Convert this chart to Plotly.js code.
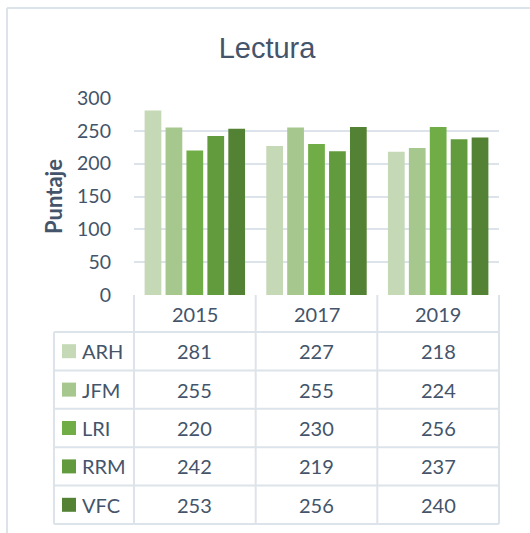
<!DOCTYPE html>
<html>
<head>
<meta charset="utf-8">
<script src="https://cdn.plot.ly/plotly-3.0.1.min.js"></script>
<style>html,body{margin:0;padding:0;background:#fff;}#chart{width:530px;height:533px;}</style>
</head>
<body>
<div id="chart"></div>
<script>
const years = ['2015', '2017', '2019'];
const seriesNames = ['ARH', 'JFM', 'LRI', 'RRM', 'VFC'];
const ARH = [281, 227, 218];
const JFM = [255, 255, 224];
const LRI = [220, 230, 256];
const RRM = [242, 219, 237];
const VFC = [253, 256, 240];
const seriesValues = [ARH, JFM, LRI, RRM, VFC];
const seriesColors = ['#c5d9b7', '#a6c78e', '#70ad47', '#619b3d', '#548235'];

const W = 530, H = 533;
const mL = 134, mR = 31, mT = 98, mB = 238;
const plotW = W - mL - mR, plotH = H - mT - mB;
const px = X => (X - mL) / plotW;          // pixel x -> paper
const py = Y => (H - mB - Y) / plotH;      // pixel y -> paper

const textColor = '#44546a';
const borderColor = '#dde3ea';
const font = 'Lato, "Open Sans", sans-serif';

const traces = seriesNames.map((n, i) => ({
  type: 'bar', name: n, x: years, y: seriesValues[i],
  marker: {color: seriesColors[i]}, hoverinfo: 'skip'
}));

const shapes = [];
const annotations = [];
const nCat = years.length;
const catEdge = i => i / nCat;  // paper x of category boundary
const headerTop = H - mB, headerBot = 332;
const rowH = (524 - headerBot) / seriesNames.length;
const labelLeft = 54;

// outer chart frame (partially visible)
shapes.push({type:'line', xref:'paper', yref:'paper', x0:px(7), x1:px(535), y0:py(8), y1:py(8), line:{color:borderColor, width:2}});
shapes.push({type:'line', xref:'paper', yref:'paper', x0:px(7), x1:px(7), y0:py(8), y1:py(540), line:{color:borderColor, width:2}});

// data table
for (let i = 0; i <= nCat; i++) {
  shapes.push({type:'line', xref:'paper', yref:'paper', x0:catEdge(i), x1:catEdge(i), y0:py(headerTop), y1:py(524), line:{color:borderColor, width:2}});
}
shapes.push({type:'line', xref:'paper', yref:'paper', x0:px(labelLeft), x1:px(labelLeft), y0:py(headerBot), y1:py(524), line:{color:borderColor, width:2}});
for (let r = 0; r <= seriesNames.length; r++) {
  const Y = headerBot + r * rowH;
  shapes.push({type:'line', xref:'paper', yref:'paper', x0:px(labelLeft), x1:catEdge(nCat), y0:py(Y), y1:py(Y), line:{color:borderColor, width:2}});
}
years.forEach((yr, i) => {
  annotations.push({xref:'paper', yref:'paper', x:(i + 0.5) / nCat, y:py((headerTop + headerBot) / 2),
    text: yr, showarrow:false, xanchor:'center', yanchor:'middle', font:{family:font, size:20, color:textColor}});
});
seriesNames.forEach((n, r) => {
  const cy = headerBot + (r + 0.5) * rowH;
  shapes.push({type:'rect', xref:'paper', yref:'paper', x0:px(62), x1:px(76), y0:py(cy - 7), y1:py(cy + 7), fillcolor:seriesColors[r], line:{width:0}});
  annotations.push({xref:'paper', yref:'paper', x:px(80), y:py(cy), text:n, showarrow:false, xanchor:'left', yanchor:'middle', font:{family:font, size:20, color:textColor}});
  seriesValues[r].forEach((v, i) => {
    annotations.push({xref:'paper', yref:'paper', x:(i + 0.5) / nCat, y:py(cy), text:String(v), showarrow:false, xanchor:'center', yanchor:'middle', font:{family:font, size:20, color:textColor}});
  });
});

const layout = {
  width: W, height: H,
  margin: {l: mL, r: mR, t: mT, b: mB, pad: 0},
  paper_bgcolor: '#ffffff', plot_bgcolor: '#ffffff',
  showlegend: false,
  barmode: 'group', bargap: 0.14, bargroupgap: 0.2,
  title: {text: 'Lectura', xref: 'container', x: 267 / W, xanchor: 'center', yref: 'container', y: 1 - 48 / H, yanchor: 'middle',
    font: {family: '"Liberation Sans Narrow", "Liberation Sans", Arial, sans-serif', size: 29, color: textColor}},
  xaxis: {type: 'category', range: [-0.5, nCat - 0.5], showticklabels: false, showgrid: false, zeroline: false, showline: false, ticks: ''},
  yaxis: {range: [0, 300], dtick: 50, tick0: 0, showgrid: true, gridcolor: borderColor, gridwidth: 2,
    zeroline: false, showline: false, ticks: '', ticklabelstandoff: 22,
    tickfont: {family: font, size: 19.5, color: textColor},
    title: {text: '<b>Puntaje</b>', standoff: 8, font: {family: font, size: 22, color: textColor}}},
  shapes: shapes,
  annotations: annotations
};

Plotly.newPlot('chart', traces, layout, {displayModeBar: false, staticPlot: true});
</script>
</body>
</html>
